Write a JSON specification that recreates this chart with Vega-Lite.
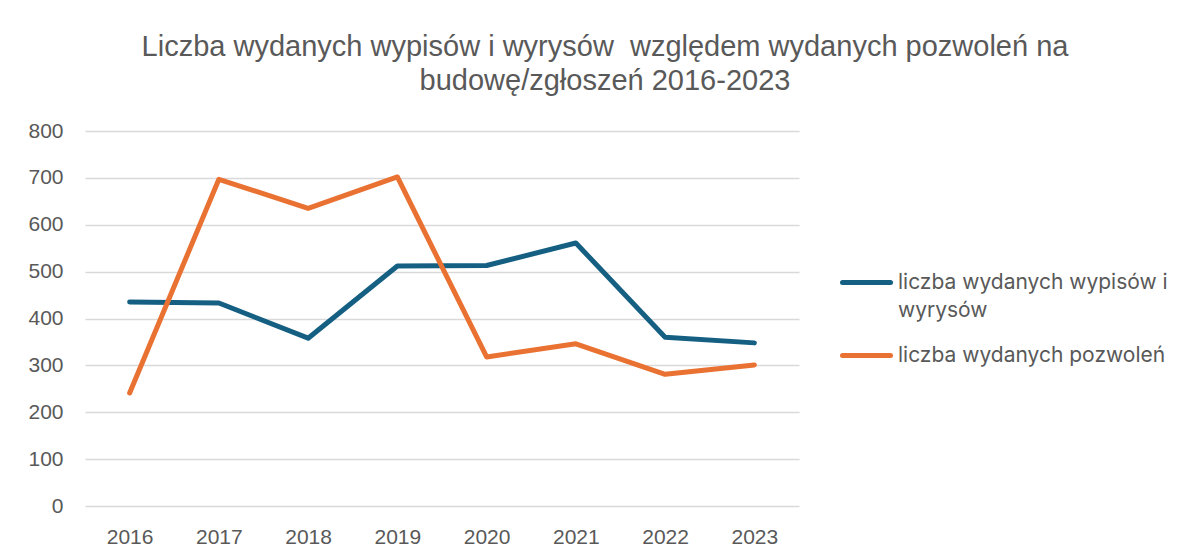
{
  "$schema": "https://vega.github.io/schema/vega-lite/v6.json",
  "width": 714,
  "height": 375,
  "autosize": {"type": "none"},
  "padding": {"left": 85, "top": 131, "right": 395, "bottom": 53},
  "background": "white",
  "title": {
    "text": ["Liczba wydanych wypisów i wyrysów \u00a0względem wydanych pozwoleń na", "budowę/zgłoszeń 2016-2023"],
    "font": "Liberation Sans",
    "fontSize": 29,
    "fontWeight": "normal",
    "color": "#595959",
    "anchor": "middle",
    "frame": "group",
    "dx": 163,
    "lineHeight": 34,
    "offset": 24
  },
  "data": {
    "values": [
      {"rok": "2016", "seria": "liczba wydanych wypisów i wyrysów", "wartosc": 435},
      {"rok": "2017", "seria": "liczba wydanych wypisów i wyrysów", "wartosc": 433},
      {"rok": "2018", "seria": "liczba wydanych wypisów i wyrysów", "wartosc": 358},
      {"rok": "2019", "seria": "liczba wydanych wypisów i wyrysów", "wartosc": 512},
      {"rok": "2020", "seria": "liczba wydanych wypisów i wyrysów", "wartosc": 513},
      {"rok": "2021", "seria": "liczba wydanych wypisów i wyrysów", "wartosc": 561},
      {"rok": "2022", "seria": "liczba wydanych wypisów i wyrysów", "wartosc": 360},
      {"rok": "2023", "seria": "liczba wydanych wypisów i wyrysów", "wartosc": 348},
      {"rok": "2016", "seria": "liczba wydanych pozwoleń", "wartosc": 241},
      {"rok": "2017", "seria": "liczba wydanych pozwoleń", "wartosc": 697},
      {"rok": "2018", "seria": "liczba wydanych pozwoleń", "wartosc": 635},
      {"rok": "2019", "seria": "liczba wydanych pozwoleń", "wartosc": 702},
      {"rok": "2020", "seria": "liczba wydanych pozwoleń", "wartosc": 318},
      {"rok": "2021", "seria": "liczba wydanych pozwoleń", "wartosc": 346},
      {"rok": "2022", "seria": "liczba wydanych pozwoleń", "wartosc": 281},
      {"rok": "2023", "seria": "liczba wydanych pozwoleń", "wartosc": 301}
    ]
  },
  "mark": {"type": "line", "strokeWidth": 5, "strokeCap": "round", "strokeJoin": "round"},
  "encoding": {
    "x": {
      "field": "rok",
      "type": "ordinal",
      "scale": {"type": "point", "padding": 0.5},
      "axis": {
        "title": null,
        "labelAngle": 0,
        "grid": false,
        "ticks": false,
        "domain": false,
        "labelFont": "Liberation Sans",
        "labelFontSize": 21,
        "labelColor": "#595959",
        "labelPadding": 20
      }
    },
    "y": {
      "field": "wartosc",
      "type": "quantitative",
      "scale": {"domain": [0, 800], "nice": false, "zero": true},
      "axis": {
        "title": null,
        "values": [0, 100, 200, 300, 400, 500, 600, 700, 800],
        "grid": true,
        "gridColor": "#d9d9d9",
        "gridWidth": 1.3,
        "ticks": false,
        "domain": false,
        "labelFont": "Liberation Sans",
        "labelFontSize": 21,
        "labelColor": "#595959",
        "labelPadding": 22
      }
    },
    "color": {
      "field": "seria",
      "type": "nominal",
      "scale": {
        "domain": ["liczba wydanych wypisów i wyrysów", "liczba wydanych pozwoleń"],
        "range": ["#156082", "#E97132"]
      },
      "legend": {
        "title": null,
        "orient": "none",
        "legendX": 755,
        "legendY": 125,
        "padding": 0,
        "symbolType": "stroke",
        "symbolSize": 2304,
        "symbolStrokeWidth": 5,
        "labelOffset": 5,
        "labelFont": "Inter",
        "labelFontSize": 21,
        "labelColor": "#595959",
        "labelLimit": 320,
        "labelBaseline": "middle",
        "rowPadding": 8,
        "labelExpr": "datum.label == 'liczba wydanych wypisów i wyrysów' ? ['liczba wydanych wypisów i', 'wyrysów'] : [datum.label, '']",
        "encode": {
          "symbols": {"update": {"strokeCap": {"value": "round"}, "fill": {"value": "transparent"}}},
          "labels": {"update": {"lineHeight": {"value": 28}}}
        }
      }
    }
  },
  "config": {"view": {"stroke": null}}
}
